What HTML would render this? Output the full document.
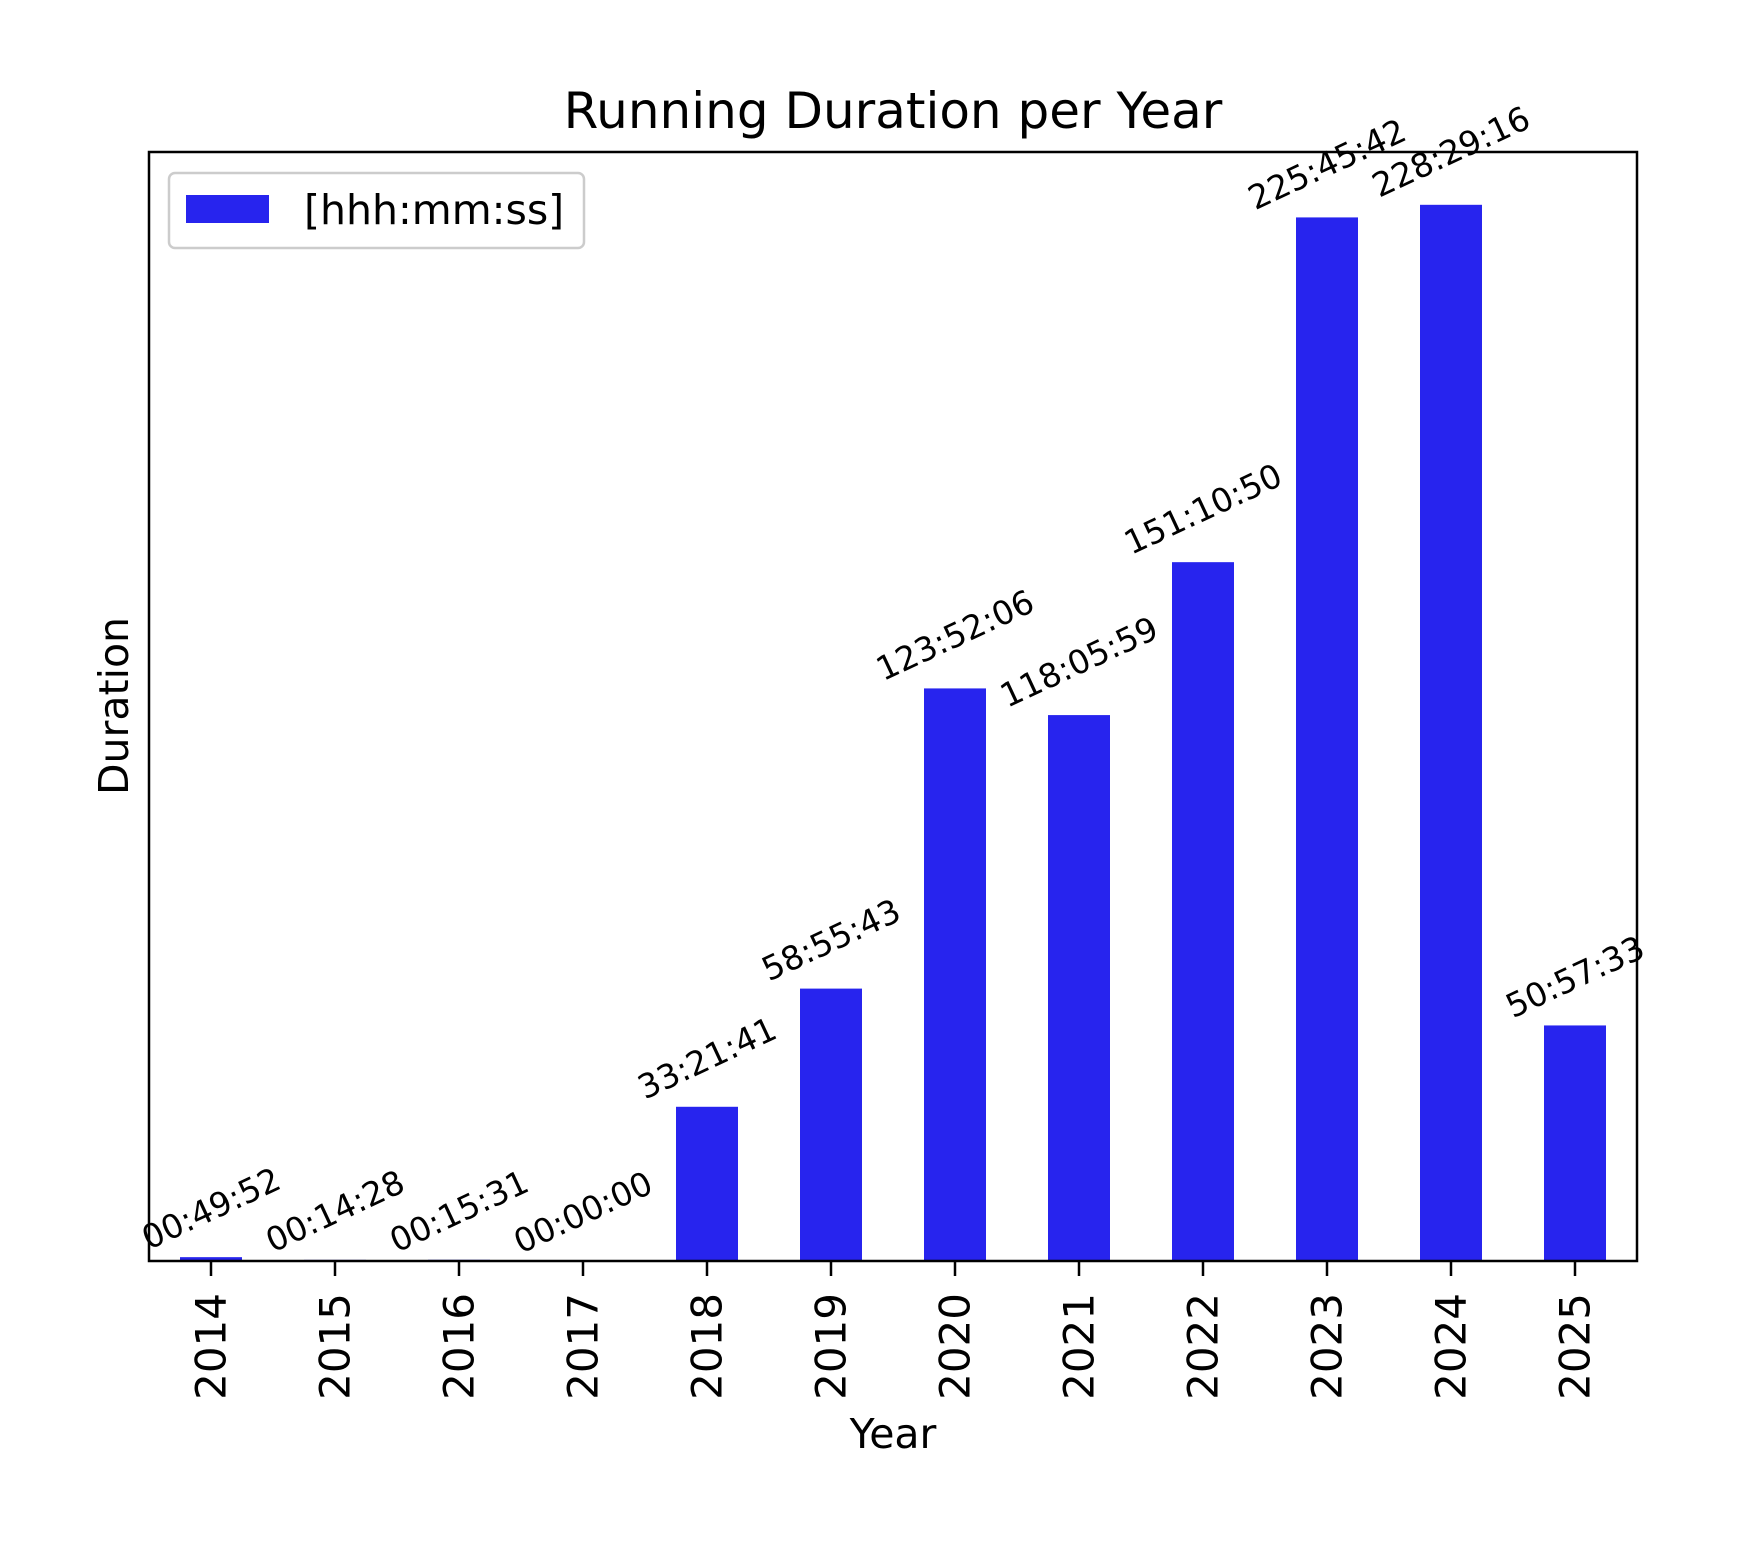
<!DOCTYPE html>
<html><head><meta charset="utf-8">
<style>
html,body{margin:0;padding:0;background:#fff;}
svg{display:block;font-family:"DejaVu Sans","Liberation Sans",sans-serif;}
</style></head>
<body>
<svg id="chart" width="1739" height="1545" viewBox="0 0 1739 1545" xmlns="http://www.w3.org/2000/svg">
<rect x="0" y="0" width="1739" height="1545" fill="#fff"/>
<text x="893" y="128" font-size="50" text-anchor="middle">Running Duration per Year</text>
<g id="bars"></g>
<g id="labels"></g>
<g id="xticks"></g>
<rect x="149" y="152" width="1488" height="1109" fill="none" stroke="#000" stroke-width="2.5"/>
<text x="893" y="1448" font-size="41" text-anchor="middle">Year</text>
<text x="0" y="0" font-size="41" text-anchor="middle" transform="translate(128,706) rotate(-90)">Duration</text>
<g>
<rect x="169" y="173" width="415" height="75" rx="6" fill="#fff" fill-opacity="0.8" stroke="#ccc" stroke-width="2.5"/>
<rect x="186" y="195" width="83" height="28" fill="#2724ee"/>
<text x="304" y="224" font-size="41">[hhh:mm:ss]</text>
</g>
</svg>
<script>
const years = ["2014","2015","2016","2017","2018","2019","2020","2021","2022","2023","2024","2025"];
const hours = [0.8311, 0.2411, 0.2586, 0, 33.3614, 58.9286, 123.8683, 118.0997, 151.1806, 225.7617, 228.4878, 50.9592];
const valueLabels = ["00:49:52","00:14:28","00:15:31","00:00:00","33:21:41","58:55:43","123:52:06","118:05:59","151:10:50","225:45:42","228:29:16","50:57:33"];

const NS = "http://www.w3.org/2000/svg";
const L = 149, R = 1637, T = 152, B = 1261;
const yMax = Math.max(...hours) * 1.05;
const step = (R - L) / years.length;
function xScale(i){ return L + step * (i + 0.5); }
function yScale(v){ return B - (v / yMax) * (B - T); }
const barW = step * 0.5;
const gBars = document.getElementById('bars');
const gLab = document.getElementById('labels');
const gTick = document.getElementById('xticks');
const ang = 25 * Math.PI / 180;
years.forEach((yr, i) => {
  const cx = xScale(i), yt = yScale(hours[i]);
  const r = document.createElementNS(NS, 'rect');
  r.setAttribute('x', cx - barW / 2);
  r.setAttribute('y', yt);
  r.setAttribute('width', barW);
  r.setAttribute('height', B - yt);
  r.setAttribute('fill', '#2724ee');
  
  
  gBars.appendChild(r);

  const t = document.createElementNS(NS, 'text');
  t.textContent = valueLabels[i];
  t.setAttribute('font-size', '33');
  t.setAttribute('text-anchor', 'middle');
  t.setAttribute('dominant-baseline', 'central');
  
  
  gLab.appendChild(t);
  const w = t.getComputedTextLength() || 140;
  const h = 34;
  const H = w * Math.sin(ang) + h * Math.cos(ang);
  const cy = yt - 2 - H / 2;
  t.setAttribute('transform', 'translate(' + cx + ',' + cy + ') rotate(-25)');

  const tk = document.createElementNS(NS, 'line');
  tk.setAttribute('x1', cx); tk.setAttribute('x2', cx);
  tk.setAttribute('y1', B); tk.setAttribute('y2', B + 15);
  tk.setAttribute('stroke', '#000'); tk.setAttribute('stroke-width', '2.5');
  
  
  gTick.appendChild(tk);

  const tl = document.createElementNS(NS, 'text');
  tl.textContent = yr;
  tl.setAttribute('font-size', '42');
  tl.setAttribute('text-anchor', 'end');
  tl.setAttribute('dominant-baseline', 'central');
  tl.setAttribute('transform', 'translate(' + cx + ',' + (B + 32) + ') rotate(-90)');
  
  
  gTick.appendChild(tl);
});
</script>
</body></html>
